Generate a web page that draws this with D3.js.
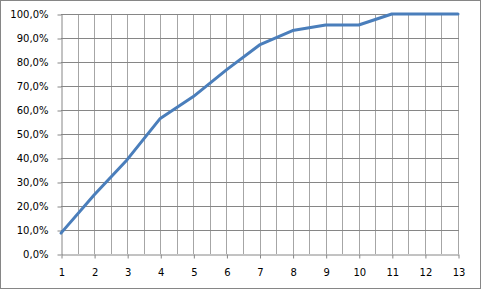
<!DOCTYPE html>
<html>
<head>
<meta charset="utf-8">
<script src="https://cdn.jsdelivr.net/npm/d3@7.9.0/dist/d3.min.js"></script>
<style>
  body { margin: 0; background: #fff; }
  svg text { font-family: "DejaVu Sans", Verdana, sans-serif; font-size: 10px; fill: #000; }
</style>
</head>
<body>
<svg id="chart" width="481" height="289"></svg>
<script>
const categories = [1, 2, 3, 4, 5, 6, 7, 8, 9, 10, 11, 12, 13];
const values = [0.087, 0.246, 0.393, 0.565, 0.656, 0.767, 0.871, 0.931, 0.954, 0.954, 1.0, 1.0, 1.0];
const yTicks = [0, 0.1, 0.2, 0.3, 0.4, 0.5, 0.6, 0.7, 0.8, 0.9, 1.0];

const svg = d3.select('#chart');

// chart frame
svg.append('rect')
  .attr('x', 0.5).attr('y', 0.5)
  .attr('width', 480).attr('height', 288)
  .attr('fill', '#fff')
  .attr('stroke', '#868686');

const x = d3.scaleLinear().domain([1, 13]).range([61, 458]);
const y = d3.scaleLinear().domain([0, 1]).range([254, 14]);

// vertical grid (integer and half steps)
svg.append('g')
  .selectAll('line')
  .data(d3.range(1.5, 13.01, 0.5))
  .join('line')
  .attr('x1', d => Math.round(x(d)) + 0.5)
  .attr('x2', d => Math.round(x(d)) + 0.5)
  .attr('y1', y(1)).attr('y2', y(0))
  .attr('stroke', '#a6a6a6');

// horizontal grid
svg.append('g')
  .selectAll('line')
  .data(yTicks.slice(1))
  .join('line')
  .attr('x1', x(1)).attr('x2', x(13) + 1)
  .attr('y1', d => Math.round(y(d)) + 0.5)
  .attr('y2', d => Math.round(y(d)) + 0.5)
  .attr('stroke', '#868686');

const fmt = d => d3.format('.1f')(d * 100).replace('.', ',') + '%';

const yAxis = d3.axisLeft(y).tickValues(yTicks).tickFormat(fmt).tickSizeInner(4).tickSizeOuter(0).tickPadding(9);
const gy = svg.append('g').attr('transform', `translate(${Math.round(x(1)) + 0.5},0.5)`).call(yAxis);

const xAxis = d3.axisBottom(x).tickValues(categories).tickFormat(d3.format('d')).tickSizeInner(4).tickSizeOuter(0).tickPadding(10);
const gx = svg.append('g').attr('transform', `translate(0.5,${Math.round(y(0)) + 0.5})`).call(xAxis);

[gy, gx].forEach(g => {
  g.selectAll('path, line').attr('stroke', '#868686');
  g.selectAll('text').style('font-family', '"DejaVu Sans", Verdana, sans-serif').style('font-size', '10px').attr('fill', '#000');
});

// data line
const line = d3.line().x((d, i) => x(categories[i])).y(d => y(d));
svg.append('path')
  .datum(values)
  .attr('d', line)
  .attr('fill', 'none')
  .attr('stroke', '#4a7ebb')
  .attr('stroke-width', 3)
  .attr('stroke-linejoin', 'round')
  .attr('stroke-linecap', 'round');
</script>
</body>
</html>
